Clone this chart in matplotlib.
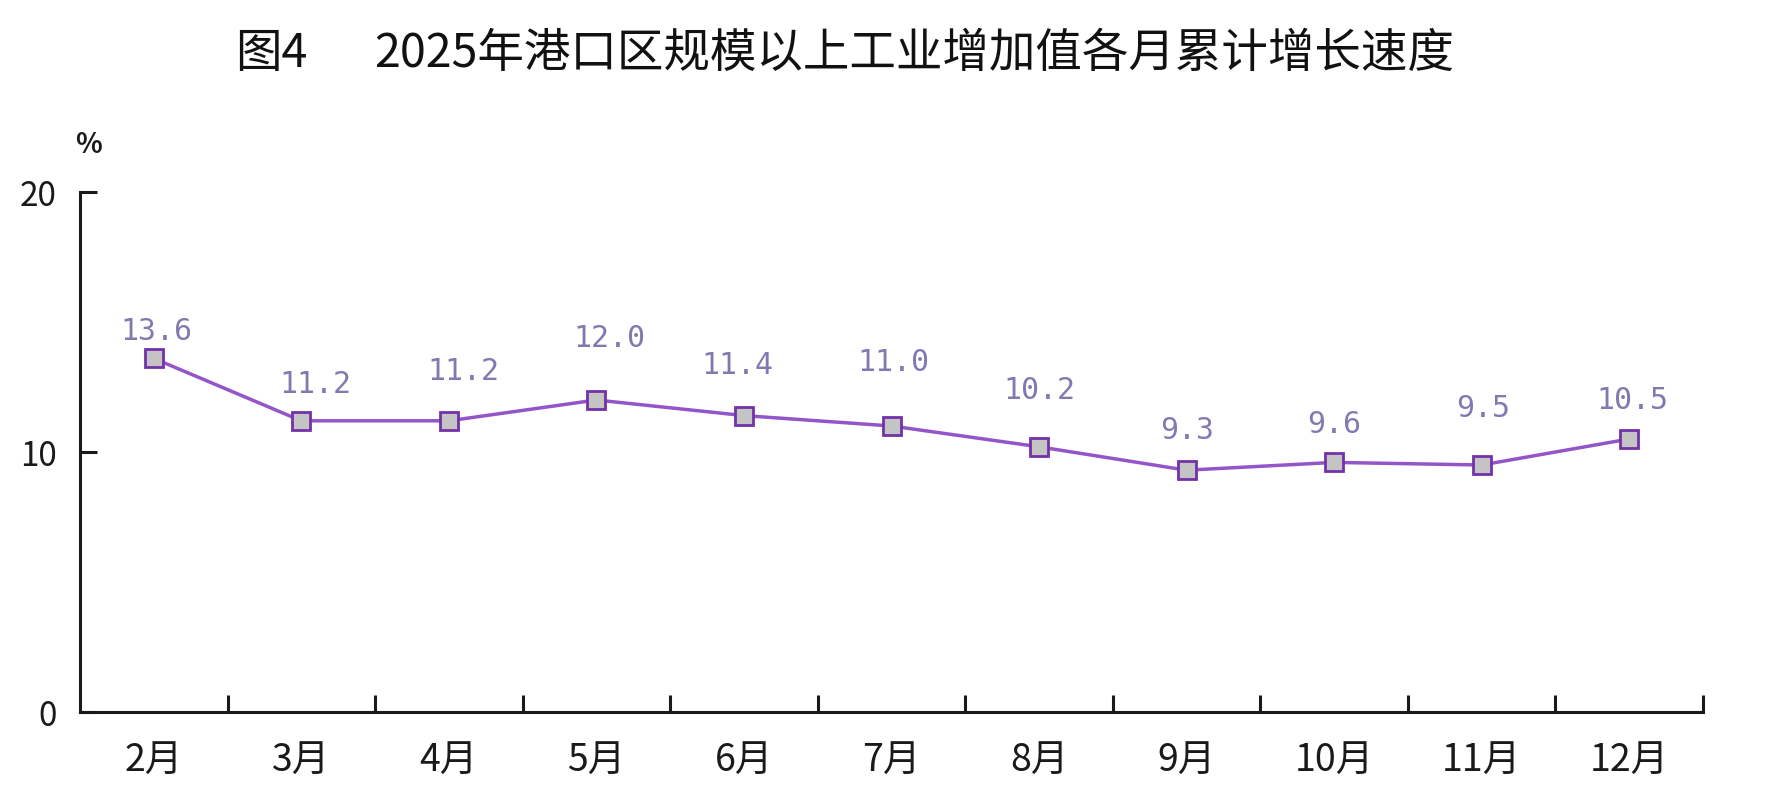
import matplotlib
matplotlib.use("Agg")
import matplotlib.pyplot as plt
from matplotlib.ticker import FixedLocator

plt.rcParams['font.family'] = ['Noto Sans CJK SC', 'DejaVu Sans']

months = ['2月', '3月', '4月', '5月', '6月', '7月', '8月', '9月', '10月', '11月', '12月']
growth = [13.6, 11.2, 11.2, 12.0, 11.4, 11.0, 10.2, 9.3, 9.6, 9.5, 10.5]
yticks = [0, 10, 20]
title_prefix = '图4'
title_main = '2025年港口区规模以上工业增加值各月累计增长速度'

# label placement (pixel offsets from each point, as placed in the source chart)
label_dx = [3, 14, 15, 13, -7, 2, 0, 1, 0, 1, 3]
label_dy = [28, 37, 50, 62, 51, 64, 57, 41, 39, 57, 39]

W, H = 1769, 812
fig = plt.figure(figsize=(W / 100, H / 100), dpi=100)
ax = fig.add_axes([80 / W, 1 - 713 / H, (1703 - 80) / W, (713 - 193) / H])

x = list(range(len(months)))
ax.plot(x, growth, color='#9355c8', lw=2.5, marker='s', markersize=13,
        markerfacecolor='#c4c4c4', markeredgecolor='#7332a8', markeredgewidth=2.0,
        zorder=3, clip_on=False)

for xi, v, dx, dy in zip(x, growth, label_dx, label_dy):
    ax.annotate(f'{v:.1f}', (xi, v), xytext=(dx, dy), textcoords='offset pixels',
                ha='center', va='center', fontsize=21.5, color='#8478b0',
                family='DejaVu Sans Mono')

ax.set_xlim(-0.5, len(months) - 0.5)
ax.set_ylim(0, 20)

ax.spines['top'].set_visible(False)
ax.spines['right'].set_visible(False)
for s in ('left', 'bottom'):
    ax.spines[s].set_linewidth(2.2)
    ax.spines[s].set_color('#1a1a1a')

ax.set_yticks(yticks)
ax.set_yticklabels([str(t) for t in yticks], fontsize=24)
ax.tick_params(axis='y', direction='in', length=12, width=2.2, pad=17, colors='#1a1a1a')

# category boundaries as ticks, labels at centres
ax.xaxis.set_major_locator(FixedLocator([i + 0.5 for i in range(len(months))]))
ax.xaxis.set_minor_locator(FixedLocator(x))
ax.set_xticklabels([])
ax.set_xticklabels(months, minor=True, fontsize=27)
ax.tick_params(axis='x', which='major', direction='in', length=12, width=2.2, colors='#1a1a1a')
ax.tick_params(axis='x', which='minor', length=0, pad=21, colors='#1a1a1a')

fig.text(88 / W, 1 - 145 / H, '%', ha='center', va='center', fontsize=20,
         fontweight='bold', color='#1a1a1a')

fig.text(235 / W, 1 - 54 / H, title_prefix, ha='left', va='center', fontsize=33.5, color='#111111')
fig.text(374 / W, 1 - 54 / H, title_main, ha='left', va='center', fontsize=33.5, color='#111111')

fig.savefig('out.png', dpi=100)
